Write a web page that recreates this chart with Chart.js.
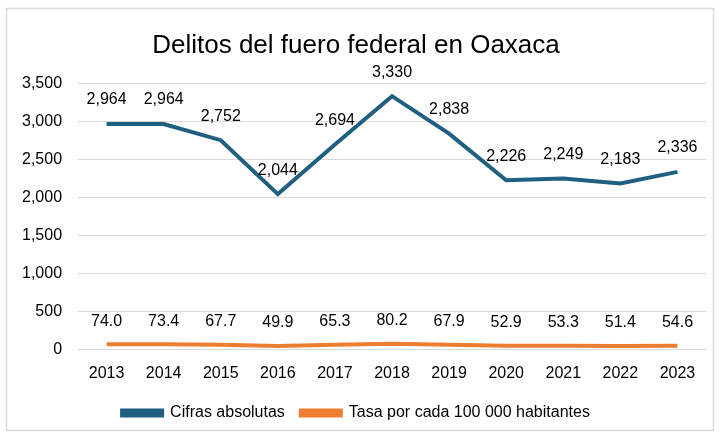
<!DOCTYPE html>
<html>
<head>
<meta charset="utf-8">
<script src="https://cdn.jsdelivr.net/npm/chart.js@4/dist/chart.umd.min.js"></script>
<style>
  html, body { margin: 0; padding: 0; background: #fff; }
  #wrap { width: 719px; height: 438px; position: relative; }
</style>
</head>
<body>
<div id="wrap"><canvas id="delitosChart" width="719" height="438"></canvas></div>
<script>
// --- DATA ---
const years = ['2013', '2014', '2015', '2016', '2017', '2018', '2019', '2020', '2021', '2022', '2023'];
const cifrasAbsolutas = [2964, 2964, 2752, 2044, 2694, 3330, 2838, 2226, 2249, 2183, 2336];
const tasaPorCien = [74.0, 73.4, 67.7, 49.9, 65.3, 80.2, 67.9, 52.9, 53.3, 51.4, 54.6];

const FONT = '"Liberation Sans Narrow", "Arial Narrow", "Liberation Sans", Arial, sans-serif';

// outer frame, like the spreadsheet chart border
const framePlugin = {
    id: 'frame',
    beforeDraw(chart) {
        const ctx = chart.ctx;
        ctx.save();
        ctx.fillStyle = '#ffffff';
        ctx.fillRect(0, 0, chart.width, chart.height);
        ctx.strokeStyle = '#d9d9d9';
        ctx.lineWidth = 1.5;
        ctx.strokeRect(6.5, 8.5, chart.width - 12, chart.height - 16);
        ctx.restore();
    }
};

// value labels above each point
const valueLabels = {
    id: 'valueLabels',
    afterDatasetsDraw(chart) {
        const ctx = chart.ctx;
        ctx.save();
        ctx.font = '16px ' + FONT;
        ctx.fillStyle = '#000';
        ctx.textAlign = 'center';
        ctx.textBaseline = 'middle';
        chart.data.datasets.forEach((ds, i) => {
            const meta = chart.getDatasetMeta(i);
            meta.data.forEach((pt, j) => {
                const v = ds.data[j];
                const txt = i === 0 ? v.toLocaleString('en-US') : v.toFixed(1);
                ctx.fillText(txt, pt.x, pt.y - (i === 0 ? 24 : 23));
            });
        });
        ctx.restore();
    }
};

const ctx = document.getElementById('delitosChart');
new Chart(ctx, {
    type: 'line',
    data: {
        labels: years,
        datasets: [{
            label: 'Cifras absolutas',
            data: cifrasAbsolutas,
            borderColor: '#1f5f80',
            backgroundColor: '#1f5f80',
            borderWidth: 4,
            pointRadius: 0,
            tension: 0
        }, {
            label: 'Tasa por cada 100 000 habitantes',
            data: tasaPorCien,
            borderColor: '#ed7d31',
            backgroundColor: '#ed7d31',
            borderWidth: 4,
            pointRadius: 0,
            tension: 0
        }]
    },
    options: {
        responsive: false,
        animation: false,
        layout: { padding: { left: 6, right: 13, top: 10, bottom: 7 } },
        plugins: {
            title: {
                display: true,
                text: 'Delitos del fuero federal en Oaxaca',
                color: '#000',
                font: { family: FONT, size: 26, weight: 'normal' },
                padding: { top: 20, bottom: 22 }
            },
            legend: {
                position: 'bottom',
                labels: {
                    color: '#000',
                    font: { family: FONT, size: 16 },
                    boxWidth: 40,
                    boxHeight: 5,
                    padding: 16
                }
            },
            tooltip: { enabled: false }
        },
        scales: {
            x: {
                offset: true,
                grid: { display: false },
                border: { color: '#d9d9d9' },
                ticks: { color: '#000', font: { family: FONT, size: 16 }, padding: 6 }
            },
            y: {
                min: 0,
                max: 3500,
                ticks: {
                    stepSize: 500,
                    color: '#000',
                    font: { family: FONT, size: 16 },
                    padding: 16,
                    callback: v => v.toLocaleString('en-US')
                },
                grid: { color: '#d9d9d9', drawTicks: false },
                border: { display: false }
            }
        }
    },
    plugins: [framePlugin, valueLabels]
});
</script>
</body>
</html>
